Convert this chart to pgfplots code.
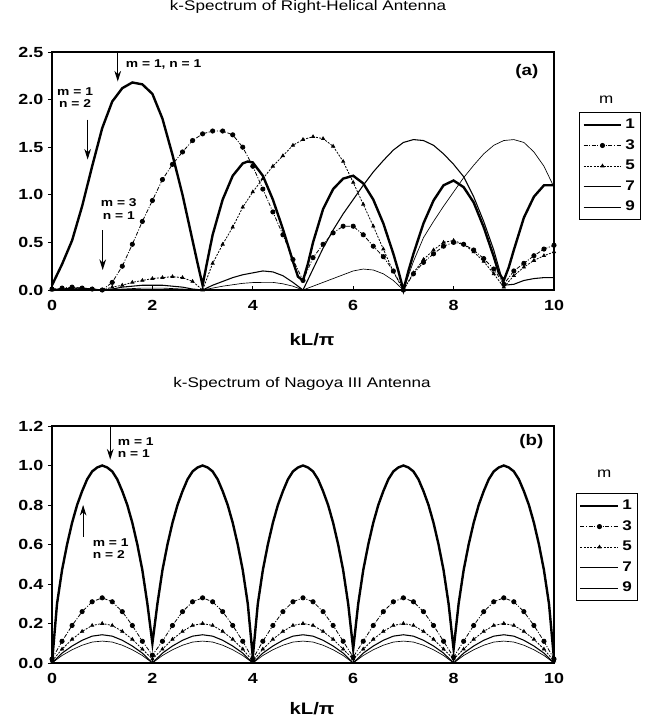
\documentclass[border=0pt]{standalone}
\usepackage{fontspec}
\setmainfont{Liberation Sans}[FakeStretch=1.22]
\usepackage{pgfplots}
\pgfplotsset{compat=1.18}
\usepackage{pgfplotstable}
\usetikzlibrary{arrows.meta}

% panel (b), marked series, step 0.2
\pgfplotstableread{
x    m3    m5    m7     m9
0.0  0.02  0.01  0.000  0.000
0.2  0.11  0.07  0.050  0.038
0.4  0.19  0.12  0.086  0.067
0.6  0.26  0.16  0.115  0.090
0.8  0.31  0.19  0.136  0.106
1.0  0.33  0.20  0.143  0.111
1.2  0.31  0.19  0.136  0.106
1.4  0.26  0.16  0.115  0.090
1.6  0.19  0.12  0.086  0.067
1.8  0.11  0.07  0.050  0.038
2.0  0.04  0.02  0.000  0.000
2.2  0.11  0.07  0.050  0.038
2.4  0.19  0.12  0.086  0.067
2.6  0.26  0.16  0.115  0.090
2.8  0.31  0.19  0.136  0.106
3.0  0.33  0.20  0.143  0.111
3.2  0.31  0.19  0.136  0.106
3.4  0.26  0.16  0.115  0.090
3.6  0.19  0.12  0.086  0.067
3.8  0.11  0.07  0.050  0.038
4.0  0.02  0.01  0.000  0.000
4.2  0.11  0.07  0.050  0.038
4.4  0.19  0.12  0.086  0.067
4.6  0.26  0.16  0.115  0.090
4.8  0.31  0.19  0.136  0.106
5.0  0.33  0.20  0.143  0.111
5.2  0.31  0.19  0.136  0.106
5.4  0.26  0.16  0.115  0.090
5.6  0.19  0.12  0.086  0.067
5.8  0.11  0.07  0.050  0.038
6.0  0.03  0.02  0.000  0.000
6.2  0.11  0.07  0.050  0.038
6.4  0.19  0.12  0.086  0.067
6.6  0.26  0.16  0.115  0.090
6.8  0.31  0.19  0.136  0.106
7.0  0.33  0.20  0.143  0.111
7.2  0.31  0.19  0.136  0.106
7.4  0.26  0.16  0.115  0.090
7.6  0.19  0.12  0.086  0.067
7.8  0.11  0.07  0.050  0.038
8.0  0.03  0.02  0.000  0.000
8.2  0.11  0.07  0.050  0.038
8.4  0.19  0.12  0.086  0.067
8.6  0.26  0.16  0.115  0.090
8.8  0.31  0.19  0.136  0.106
9.0  0.33  0.20  0.143  0.111
9.2  0.31  0.19  0.136  0.106
9.4  0.26  0.16  0.115  0.090
9.6  0.19  0.12  0.086  0.067
9.8  0.11  0.07  0.050  0.038
10.0 0.02  0.01  0.000  0.000
}\nagoya

\tikzset{
  note/.style={font=\fontsize{8.5}{9.5}\selectfont\bfseries, align=center},
  arr/.style={-{Stealth[length=8pt,width=5pt]}, line width=0.7pt},
}
\pgfplotsset{
  panel/.style={
    scale only axis, width=376.5pt, anchor=south west,
    xmin=0, xmax=10, xtick={0,2,...,10},
    tick align=outside, xtick pos=bottom, ytick pos=left,
    major tick length=3pt, tick style={black, line width=0.6pt},
    xtick style={yshift=3pt},
    axis line style={black, line width=0.8pt},
    tick label style={font=\fontsize{11}{12}\selectfont\bfseries},
    xticklabel style={yshift=-1pt},
    /pgf/number format/assume math mode=true,
    yticklabel style={/pgf/number format/.cd, fixed, fixed zerofill, precision=1},
    title style={font=\fontsize{10.5}{12}\selectfont, anchor=center},
    xlabel style={font=\fontsize{12.5}{14}\selectfont\bfseries, anchor=center},
    legend style={anchor=north west, draw=black, line width=0.8pt,
      font=\fontsize{10.5}{12}\selectfont\bfseries, row sep=2.6pt,
      inner xsep=2pt, inner ysep=3pt, cells={anchor=west}},
    legend image code/.code={\draw[mark repeat=2,mark phase=2,#1]
      plot coordinates {(0cm,0cm) (0.5cm,0cm) (1cm,0cm)};},
    clip=false,
  },
  s1/.style={black, line width=1.8pt, no markers},
  s3/.style={black, line width=0.6pt, dash pattern=on 3pt off 1.2pt on 0.8pt off 1.2pt,
    mark=*, mark size=1.6pt, mark options={solid}},
  s5/.style={black, line width=0.6pt, dash pattern=on 1.5pt off 1pt,
    mark=triangle*, mark size=1.3pt, mark options={solid}},
  s7/.style={black, line width=0.8pt, no markers},
  s9/.style={black, line width=0.5pt, no markers},
}

\begin{document}
\begin{tikzpicture}
\useasboundingbox (0,0) rectangle (487.5pt,541.5pt);

% ---------- (a) right-helical ----------
\begin{axis}[panel, at={(39pt,324pt)}, height=178.5pt,
    ymin=0, ymax=2.5, ytick={0,0.5,1,1.5,2,2.5},
    title={k-Spectrum of Right-Helical Antenna},
    title style={at={(axis description cs:0.51,1)}, yshift=27.75pt},
    xlabel={kL/π},
    xlabel style={at={(axis description cs:0.518,0)}, yshift=-37.5pt},
    legend style={at={(1.05,0.748)}},
]
\addplot[s1] coordinates {
(0,0.05) (0.2,0.27) (0.4,0.52) (0.6,0.88) (0.8,1.3) (1.0,1.7) (1.2,1.98)
(1.4,2.12) (1.6,2.18) (1.8,2.16) (2.0,2.06) (2.2,1.8) (2.4,1.42) (2.6,1.0)
(2.8,0.52) (2.9,0.28) (3.0,0.05) (3.1,0.32) (3.2,0.58) (3.4,0.95) (3.6,1.2)
(3.8,1.33) (3.9,1.35) (4.0,1.34) (4.2,1.2) (4.4,0.95) (4.6,0.64) (4.8,0.3)
(4.9,0.14) (5.0,0.1) (5.1,0.28) (5.2,0.5) (5.4,0.85) (5.6,1.06) (5.8,1.17)
(6.0,1.2) (6.2,1.12) (6.4,0.95) (6.6,0.7) (6.8,0.38) (6.9,0.2) (7.0,0.0)
(7.1,0.2) (7.2,0.38) (7.4,0.7) (7.6,0.94) (7.8,1.1) (8.0,1.15) (8.2,1.08)
(8.4,0.92) (8.6,0.66) (8.8,0.35) (8.9,0.18) (9.0,0.1) (9.1,0.24) (9.2,0.42)
(9.4,0.76) (9.6,0.98) (9.8,1.1) (10.0,1.1)};
\addlegendentry{1}
\addplot[s3] coordinates {
(0,0.01) (0.2,0.02) (0.4,0.03) (0.6,0.02) (0.8,0.01) (1.0,0.0) (1.2,0.08)
(1.4,0.25) (1.6,0.48) (1.8,0.72) (2.0,0.94) (2.2,1.16) (2.4,1.32) (2.6,1.45)
(2.8,1.57) (3.0,1.64) (3.2,1.67) (3.4,1.67) (3.6,1.63) (3.8,1.5) (4.0,1.3)
(4.2,1.06) (4.4,0.82) (4.6,0.58) (4.8,0.32) (5.0,0.1) (5.2,0.34) (5.4,0.48)
(5.6,0.6) (5.8,0.67) (6.0,0.67) (6.2,0.58) (6.4,0.46) (6.6,0.35) (6.8,0.2)
(7.0,0.0) (7.2,0.17) (7.4,0.29) (7.6,0.38) (7.8,0.46) (8.0,0.5) (8.2,0.48)
(8.4,0.42) (8.6,0.33) (8.8,0.22) (9.0,0.06) (9.2,0.2) (9.4,0.28) (9.6,0.36)
(9.8,0.43) (10.0,0.47)};
\addlegendentry{3}
\addplot[s5] coordinates {
(0,0.0) (0.2,0.02) (0.4,0.01) (0.6,0.02) (0.8,0.01) (1.0,0.0) (1.2,0.03)
(1.4,0.05) (1.6,0.08) (1.8,0.1) (2.0,0.12) (2.2,0.13) (2.4,0.14) (2.6,0.13)
(2.8,0.09) (3.0,0.0) (3.2,0.28) (3.4,0.48) (3.6,0.66) (3.8,0.87) (4.0,1.03)
(4.2,1.17) (4.4,1.3) (4.6,1.41) (4.8,1.52) (5.0,1.58) (5.2,1.61) (5.4,1.59)
(5.6,1.51) (5.8,1.35) (6.0,1.13) (6.2,0.9) (6.4,0.67) (6.6,0.43) (6.8,0.19)
(7.0,0.0) (7.2,0.18) (7.4,0.32) (7.6,0.42) (7.8,0.5) (8.0,0.52) (8.2,0.48)
(8.4,0.4) (8.6,0.3) (8.8,0.17) (9.0,0.03) (9.2,0.15) (9.4,0.24) (9.6,0.31)
(9.8,0.36) (10.0,0.4)};
\addlegendentry{5}
\addplot[s7] coordinates {
(0,0.0) (0.2,0.01) (0.4,0.02) (0.6,0.02) (0.8,0.01) (1.0,0.0) (1.2,0.01)
(1.4,0.03) (1.6,0.04) (1.8,0.05) (2.0,0.05) (2.2,0.05) (2.4,0.04) (2.6,0.03)
(2.8,0.01) (3.0,0.0) (3.2,0.05) (3.4,0.09) (3.6,0.13) (3.8,0.16) (4.0,0.18)
(4.2,0.2) (4.4,0.19) (4.6,0.15) (4.8,0.08) (5.0,0.0) (5.2,0.22) (5.4,0.44)
(5.6,0.63) (5.8,0.8) (6.0,0.95) (6.2,1.1) (6.4,1.24) (6.6,1.36) (6.8,1.47)
(7.0,1.55) (7.2,1.58) (7.4,1.57) (7.6,1.52) (7.8,1.43) (8.0,1.32) (8.2,1.19)
(8.4,0.98) (8.6,0.72) (8.8,0.42) (9.0,0.05) (9.2,0.06) (9.4,0.1) (9.6,0.12)
(9.8,0.13) (10.0,0.13)};
\addlegendentry{7}
\addplot[s9] coordinates {
(0,0.0) (0.4,0.01) (0.8,0.01) (1.0,0.0) (1.4,0.01) (1.8,0.02) (2.2,0.02)
(2.6,0.01) (3.0,0.0) (3.2,0.02) (3.4,0.04) (3.6,0.055) (3.8,0.07) (4.0,0.078)
(4.2,0.08) (4.4,0.08) (4.6,0.065) (4.8,0.04) (5.0,0.0) (5.2,0.04) (5.4,0.08)
(5.6,0.12) (5.8,0.16) (6.0,0.2) (6.2,0.22) (6.4,0.21) (6.6,0.17) (6.8,0.1)
(7.0,0.0) (7.2,0.3) (7.4,0.55) (7.6,0.72) (7.8,0.88) (8.0,1.03) (8.2,1.18)
(8.4,1.31) (8.6,1.43) (8.8,1.52) (9.0,1.57) (9.2,1.58) (9.4,1.55) (9.6,1.45)
(9.8,1.3) (10.0,1.08)};
\addlegendentry{9}
\node[font=\fontsize{10.5}{12}\selectfont] at (axis description cs:1.104,0.80) {m};
\node[font=\fontsize{11.5}{13}\selectfont\bfseries] at (axis cs:9.46,2.29) {(a)};
\draw[arr] (axis cs:1.31,2.5) -- (axis cs:1.31,2.19);
\node[note, anchor=west] at (axis cs:1.38,2.37) {m = 1, n = 1};
\node[note] at (axis cs:0.46,2.02) {m = 1\\n = 2};
\draw[arr] (axis cs:0.71,1.79) -- (axis cs:0.71,1.37);
\node[note] at (axis cs:1.33,0.85) {m = 3\\n = 1};
\draw[arr] (axis cs:1.01,0.63) -- (axis cs:1.01,0.21);
\end{axis}

% ---------- (b) Nagoya III ----------
\begin{axis}[panel, at={(39pt,44.25pt)}, height=177.75pt,
    ymin=0, ymax=1.2, ytick={0,0.2,0.4,0.6,0.8,1.0,1.2},
    title={k-Spectrum of Nagoya III Antenna},
    title style={at={(axis description cs:0.498,1)}, yshift=25.5pt},
    xlabel={kL/π},
    xlabel style={at={(axis description cs:0.518,0)}, yshift=-34.5pt},
    legend style={at={(1.044,0.717)}},
]
\addplot[s1] coordinates {
(0,0.0) (0.1,0.3) (0.2,0.47) (0.3,0.6) (0.4,0.71) (0.5,0.8) (0.6,0.87)
(0.7,0.93) (0.8,0.97) (0.9,0.99) (1.0,1.0) (1.1,0.99) (1.2,0.97) (1.3,0.93)
(1.4,0.87) (1.5,0.8) (1.6,0.71) (1.7,0.6) (1.8,0.47) (1.9,0.3) (2.0,0.1)
(2.1,0.3) (2.2,0.47) (2.3,0.6) (2.4,0.71) (2.5,0.8) (2.6,0.87) (2.7,0.93)
(2.8,0.97) (2.9,0.99) (3.0,1.0) (3.1,0.99) (3.2,0.97) (3.3,0.93) (3.4,0.87)
(3.5,0.8) (3.6,0.71) (3.7,0.6) (3.8,0.47) (3.9,0.3) (4.0,0.03)
(4.1,0.3) (4.2,0.47) (4.3,0.6) (4.4,0.71) (4.5,0.8) (4.6,0.87) (4.7,0.93)
(4.8,0.97) (4.9,0.99) (5.0,1.0) (5.1,0.99) (5.2,0.97) (5.3,0.93) (5.4,0.87)
(5.5,0.8) (5.6,0.71) (5.7,0.6) (5.8,0.47) (5.9,0.3) (6.0,0.07)
(6.1,0.3) (6.2,0.47) (6.3,0.6) (6.4,0.71) (6.5,0.8) (6.6,0.87) (6.7,0.93)
(6.8,0.97) (6.9,0.99) (7.0,1.0) (7.1,0.99) (7.2,0.97) (7.3,0.93) (7.4,0.87)
(7.5,0.8) (7.6,0.71) (7.7,0.6) (7.8,0.47) (7.9,0.3) (8.0,0.07)
(8.1,0.3) (8.2,0.47) (8.3,0.6) (8.4,0.71) (8.5,0.8) (8.6,0.87) (8.7,0.93)
(8.8,0.97) (8.9,0.99) (9.0,1.0) (9.1,0.99) (9.2,0.97) (9.3,0.93) (9.4,0.87)
(9.5,0.8) (9.6,0.71) (9.7,0.6) (9.8,0.47) (9.9,0.3) (10.0,0.02)};
\addlegendentry{1}
\addplot[s3] table[x=x, y=m3] {\nagoya};
\addlegendentry{3}
\addplot[s5] table[x=x, y=m5] {\nagoya};
\addlegendentry{5}
\addplot[s7] table[x=x, y=m7] {\nagoya};
\addlegendentry{7}
\addplot[s9] table[x=x, y=m9] {\nagoya};
\addlegendentry{9}
\node[font=\fontsize{10.5}{12}\selectfont] at (axis description cs:1.1,0.80) {m};
\node[font=\fontsize{11.5}{13}\selectfont\bfseries] at (axis cs:9.55,1.12) {(b)};
\draw[arr] (axis cs:1.16,1.2) -- (axis cs:1.16,1.03);
\node[note, align=left, anchor=west] at (axis cs:1.22,1.09) {m = 1\\n = 1};
\draw[arr] (axis cs:0.62,0.64) -- (axis cs:0.62,0.8);
\node[note, align=left, anchor=west] at (axis cs:0.72,0.58) {m = 1\\n = 2};
\end{axis}
\end{tikzpicture}
\end{document}
